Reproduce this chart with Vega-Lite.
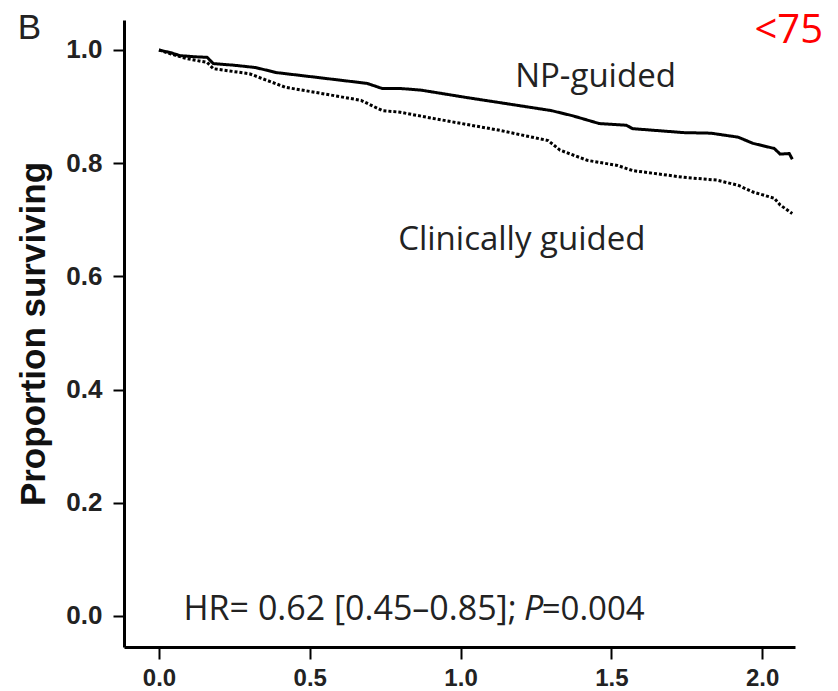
{
  "$schema": "https://vega.github.io/schema/vega-lite/v6.json",
  "width": 671,
  "height": 627,
  "autosize": {"type": "none"},
  "padding": {"left": 124, "top": 20, "right": 43, "bottom": 44},
  "background": "white",
  "config": {
    "view": {"stroke": null},
    "axis": {
      "grid": false,
      "domainColor": "black",
      "domainWidth": 3,
      "tickColor": "black",
      "tickWidth": 2,
      "tickSize": 11,
      "labelFont": "Liberation Sans",
      "labelFontWeight": "bold",
      "labelFontSize": 26,
      "labelColor": "#222",
      "titleFont": "Liberation Sans",
      "titleFontWeight": "bold",
      "titleColor": "#111"
    }
  },
  "datasets": {
    "curves": [
      {"time": 0, "surv": 1.0, "group": "NP-guided"},
      {"time": 0.04, "surv": 0.995, "group": "NP-guided"},
      {"time": 0.07, "surv": 0.990, "group": "NP-guided"},
      {"time": 0.12, "surv": 0.988, "group": "NP-guided"},
      {"time": 0.16, "surv": 0.987, "group": "NP-guided"},
      {"time": 0.18, "surv": 0.976, "group": "NP-guided"},
      {"time": 0.25, "surv": 0.973, "group": "NP-guided"},
      {"time": 0.32, "surv": 0.969, "group": "NP-guided"},
      {"time": 0.39, "surv": 0.960, "group": "NP-guided"},
      {"time": 0.47, "surv": 0.955, "group": "NP-guided"},
      {"time": 0.58, "surv": 0.948, "group": "NP-guided"},
      {"time": 0.69, "surv": 0.941, "group": "NP-guided"},
      {"time": 0.74, "surv": 0.932, "group": "NP-guided"},
      {"time": 0.80, "surv": 0.932, "group": "NP-guided"},
      {"time": 0.87, "surv": 0.929, "group": "NP-guided"},
      {"time": 1.02, "surv": 0.916, "group": "NP-guided"},
      {"time": 1.13, "surv": 0.907, "group": "NP-guided"},
      {"time": 1.30, "surv": 0.893, "group": "NP-guided"},
      {"time": 1.37, "surv": 0.884, "group": "NP-guided"},
      {"time": 1.46, "surv": 0.870, "group": "NP-guided"},
      {"time": 1.55, "surv": 0.867, "group": "NP-guided"},
      {"time": 1.57, "surv": 0.861, "group": "NP-guided"},
      {"time": 1.74, "surv": 0.854, "group": "NP-guided"},
      {"time": 1.83, "surv": 0.853, "group": "NP-guided"},
      {"time": 1.92, "surv": 0.846, "group": "NP-guided"},
      {"time": 1.97, "surv": 0.835, "group": "NP-guided"},
      {"time": 2.04, "surv": 0.826, "group": "NP-guided"},
      {"time": 2.06, "surv": 0.816, "group": "NP-guided"},
      {"time": 2.09, "surv": 0.817, "group": "NP-guided"},
      {"time": 2.10, "surv": 0.807, "group": "NP-guided"},
      {"time": 0, "surv": 1.0, "group": "Clinically guided"},
      {"time": 0.04, "surv": 0.993, "group": "Clinically guided"},
      {"time": 0.09, "surv": 0.985, "group": "Clinically guided"},
      {"time": 0.16, "surv": 0.978, "group": "Clinically guided"},
      {"time": 0.18, "surv": 0.967, "group": "Clinically guided"},
      {"time": 0.30, "surv": 0.958, "group": "Clinically guided"},
      {"time": 0.36, "surv": 0.946, "group": "Clinically guided"},
      {"time": 0.42, "surv": 0.934, "group": "Clinically guided"},
      {"time": 0.52, "surv": 0.925, "group": "Clinically guided"},
      {"time": 0.67, "surv": 0.911, "group": "Clinically guided"},
      {"time": 0.74, "surv": 0.893, "group": "Clinically guided"},
      {"time": 0.80, "surv": 0.890, "group": "Clinically guided"},
      {"time": 0.91, "surv": 0.879, "group": "Clinically guided"},
      {"time": 1.13, "surv": 0.858, "group": "Clinically guided"},
      {"time": 1.29, "surv": 0.840, "group": "Clinically guided"},
      {"time": 1.33, "surv": 0.823, "group": "Clinically guided"},
      {"time": 1.42, "surv": 0.805, "group": "Clinically guided"},
      {"time": 1.52, "surv": 0.796, "group": "Clinically guided"},
      {"time": 1.57, "surv": 0.787, "group": "Clinically guided"},
      {"time": 1.74, "surv": 0.775, "group": "Clinically guided"},
      {"time": 1.85, "surv": 0.770, "group": "Clinically guided"},
      {"time": 1.92, "surv": 0.761, "group": "Clinically guided"},
      {"time": 1.97, "surv": 0.749, "group": "Clinically guided"},
      {"time": 2.04, "surv": 0.738, "group": "Clinically guided"},
      {"time": 2.06, "surv": 0.726, "group": "Clinically guided"},
      {"time": 2.10, "surv": 0.711, "group": "Clinically guided"}
    ]
  },
  "layer": [
    {
      "data": {"name": "curves"},
      "mark": {"type": "line", "color": "black", "strokeWidth": 3, "interpolate": "linear"},
      "encoding": {
        "x": {
          "field": "time", "type": "quantitative",
          "scale": {"domain": [-0.116, 2.109], "nice": false, "zero": false},
          "axis": {"values": [0, 0.5, 1, 1.5, 2], "format": ".1f", "title": null, "labelPadding": 7, "tickSize": 12, "labelFontSize": 24}
        },
        "y": {
          "field": "surv", "type": "quantitative",
          "scale": {"domain": [-0.055, 1.053], "nice": false, "zero": false},
          "axis": {"values": [0, 0.2, 0.4, 0.6, 0.8, 1.0], "format": ".1f", "title": "Proportion surviving", "titleFontSize": 35, "titlePadding": 14, "labelPadding": 11}
        },
        "detail": {"field": "group"},
        "strokeDash": {
          "field": "group", "type": "nominal",
          "scale": {"domain": ["NP-guided", "Clinically guided"], "range": [[1, 0], [3, 2]]},
          "legend": null
        }
      }
    },
    {
      "data": {"values": [{"x": 1.181, "y": 0.934, "label": "NP-guided"}, {"x": 0.793, "y": 0.646, "label": "Clinically guided"}]},
      "mark": {"type": "text", "align": "left", "baseline": "alphabetic", "font": "Open Sans", "fontSize": 33, "color": "#222"},
      "encoding": {
        "x": {"field": "x", "type": "quantitative"},
        "y": {"field": "y", "type": "quantitative"},
        "text": {"field": "label"}
      }
    },
    {
      "data": {"values": [{"x": 1.186, "y": -0.007, "label": "HR= 0.62 [0.45–0.85];"}]},
      "mark": {"type": "text", "align": "right", "baseline": "alphabetic", "font": "Open Sans", "fontSize": 34, "color": "#222"},
      "encoding": {
        "x": {"field": "x", "type": "quantitative"},
        "y": {"field": "y", "type": "quantitative"},
        "text": {"field": "label"}
      }
    },
    {
      "data": {"values": [{"x": 1.210, "y": -0.007, "label": "P"}]},
      "mark": {"type": "text", "align": "left", "baseline": "alphabetic", "font": "Open Sans", "fontStyle": "italic", "fontSize": 34, "color": "#222"},
      "encoding": {
        "x": {"field": "x", "type": "quantitative"},
        "y": {"field": "y", "type": "quantitative"},
        "text": {"field": "label"}
      }
    },
    {
      "data": {"values": [{"x": 1.269, "y": -0.007, "label": "=0.004"}]},
      "mark": {"type": "text", "align": "left", "baseline": "alphabetic", "font": "Open Sans", "fontSize": 33, "color": "#222"},
      "encoding": {
        "x": {"field": "x", "type": "quantitative"},
        "y": {"field": "y", "type": "quantitative"},
        "text": {"field": "label"}
      }
    },
    {
      "data": {"values": [{"x": 2.202, "y": 1.013, "label": "<75"}]},
      "mark": {"type": "text", "align": "right", "baseline": "alphabetic", "font": "Open Sans", "fontSize": 40, "color": "#ff0000"},
      "encoding": {
        "x": {"field": "x", "type": "quantitative"},
        "y": {"field": "y", "type": "quantitative"},
        "text": {"field": "label"}
      }
    },
    {
      "data": {"values": [{"x": -0.468, "y": 1.020, "label": "B"}]},
      "mark": {"type": "text", "align": "left", "baseline": "alphabetic", "font": "Liberation Sans", "fontSize": 35, "color": "#222"},
      "encoding": {
        "x": {"field": "x", "type": "quantitative"},
        "y": {"field": "y", "type": "quantitative"},
        "text": {"field": "label"}
      }
    }
  ]
}
